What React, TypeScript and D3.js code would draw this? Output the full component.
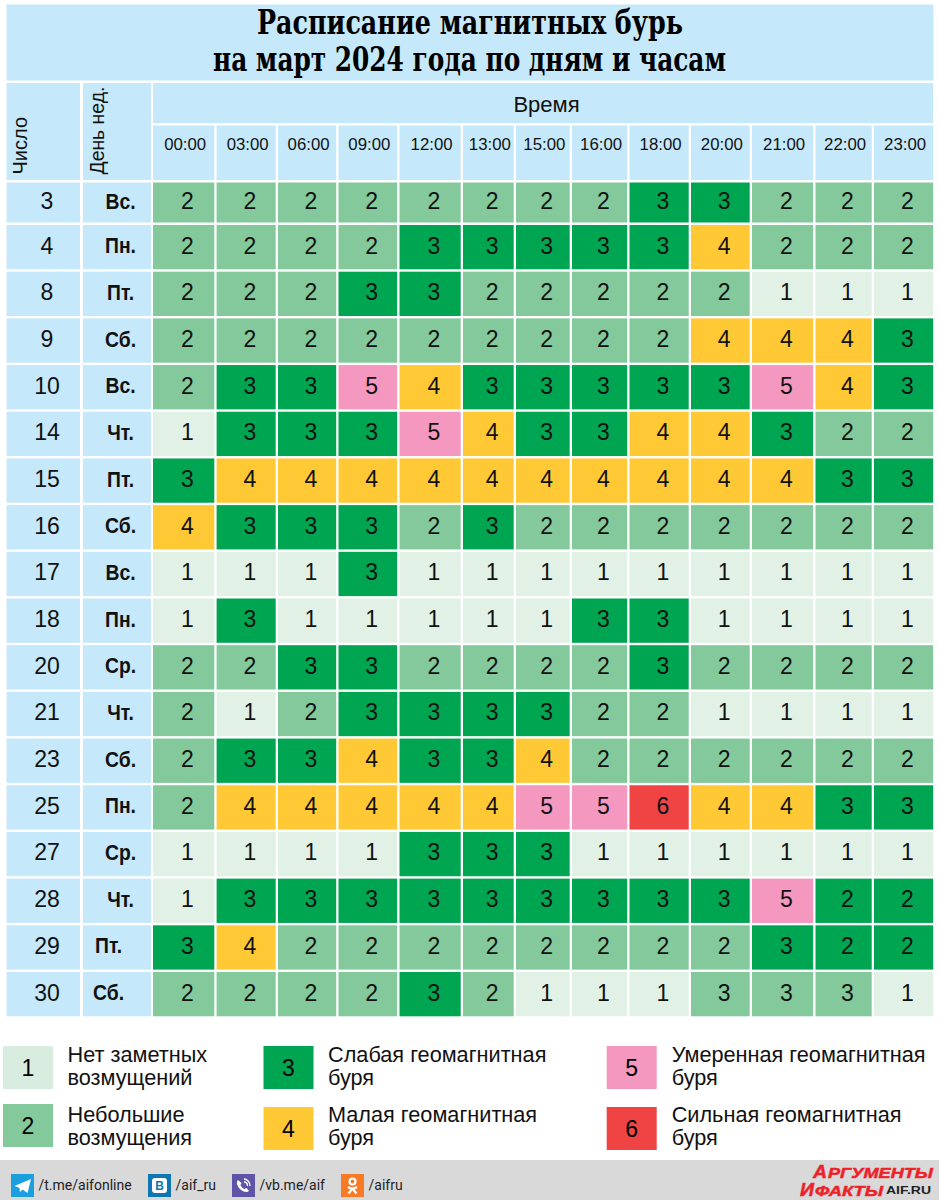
import React from "react";
import * as d3 from "d3";

const hours = ["00:00","03:00","06:00","09:00","12:00","13:00","15:00","16:00","18:00","20:00","21:00","22:00","23:00"];
const days = [3,4,8,9,10,14,15,16,17,18,20,21,23,25,27,28,29,30];
const weekdays = ["Вс.","Пн.","Пт.","Сб.","Вс.","Чт.","Пт.","Сб.","Вс.","Пн.","Ср.","Чт.","Сб.","Пн.","Ср.","Чт.","Пт.","Сб."];

// printed values, row by row
const values = [
  [2,2,2,2,2,2,2,2,3,3,2,2,2],
  [2,2,2,2,3,3,3,3,3,4,2,2,2],
  [2,2,2,3,3,2,2,2,2,2,1,1,1],
  [2,2,2,2,2,2,2,2,2,4,4,4,3],
  [2,3,3,5,4,3,3,3,3,3,5,4,3],
  [1,3,3,3,5,4,3,3,4,4,3,2,2],
  [3,4,4,4,4,4,4,4,4,4,4,3,3],
  [4,3,3,3,2,3,2,2,2,2,2,2,2],
  [1,1,1,3,1,1,1,1,1,1,1,1,1],
  [1,3,1,1,1,1,1,3,3,1,1,1,1],
  [2,2,3,3,2,2,2,2,3,2,2,2,2],
  [2,1,2,3,3,3,3,2,2,1,1,1,1],
  [2,3,3,4,3,3,4,2,2,2,2,2,2],
  [2,4,4,4,4,4,5,5,6,4,4,3,3],
  [1,1,1,1,3,3,3,1,1,1,1,1,1],
  [1,3,3,3,3,3,3,3,3,3,5,2,2],
  [3,4,2,2,2,2,2,2,2,2,3,2,2],
  [2,2,2,2,3,2,1,1,1,3,3,3,1],
];

// cells whose fill in the source differs from the printed value: [day, hour, shown level]
const fillOverrides: [number, string, number][] = [
  [28,"22:00",3],[28,"23:00",3],[29,"22:00",3],[29,"23:00",3],
  [30,"20:00",2],[30,"21:00",2],[30,"22:00",2],
];

const levels = [1,2,3,4,5,6];
const levelColors = ["#E2F1E6","#83C99B","#00A551","#FFC936","#F598C0","#F04444"];
const legendLines = [
  ["Нет заметных","возмущений"],
  ["Небольшие","возмущения"],
  ["Слабая геомагнитная","буря"],
  ["Малая геомагнитная","буря"],
  ["Умеренная геомагнитная","буря"],
  ["Сильная геомагнитная","буря"],
];
const socialLabels = ["/t.me/aifonline","/aif_ru","/vb.me/aif","/aifru"];
const socialColors = ["#1C9FDF","#0E76B0","#5E55A8","#F97A25"];

// layout
const columnStarts = [153,216.6,278,338.5,399.5,463,516,572,629.5,691,752,815.5,874,935.5];
const gap = 2.3;
const sky = "#C5E8FA";
const sans = "'Liberation Sans', Arial, sans-serif";

const x = d3.scaleLinear().domain(d3.range(columnStarts.length)).range(columnStarts);
const y = d3.scaleLinear().domain([1, days.length - 1]).range([225, 972]);
const rowTop = (i: number) => (i === 0 ? 182.5 : y(i));
const rowH = (i: number) => (i === 0 ? 40 : 44.3);
const color = d3.scaleOrdinal<number, string>().domain(levels).range(levelColors);

const legendX = d3.scaleOrdinal<number, number>().domain([0,1,2]).range([3,263.5,606.7]);
const legendY = (i: number) => {
  const col = Math.floor(i / 2), row = i % 2;
  if (row === 0) return 1046;
  return col === 0 ? 1104 : 1107;
};
const legendTextX = [67.5, 328, 671.7];
const socialIconX = [11, 148, 232, 341];

function fillLevel(r: number, c: number) {
  const o = fillOverrides.find(f => f[0] === days[r] && f[1] === hours[c]);
  return o ? o[2] : values[r][c];
}

function SocialGlyph({ i, x0 }: { i: number; x0: number }) {
  const t = `translate(${x0},1174)`;
  if (i === 0) return <path transform={t} d="M3.5 12 L20 5 L16.5 19 L11.5 15.5 L9 18 L8.5 14 Z" fill="#fff" />;
  if (i === 1) return <g transform={t}>
    <rect x={4} y={4} width={15} height={15} rx={3} fill="#fff" />
    <text x={11.5} y={16.3} textAnchor="middle" fontFamily={sans} fontWeight={700} fontSize={12} fill="#0E76B0">B</text>
  </g>;
  if (i === 2) return <g transform={t}>
    <path d="M6 6 C4 8 5 12 8 15 C11 18 15 19 17 17 L14.5 14 L12.5 15 C11 14.5 9 12.5 8.5 11 L9.5 9 Z" fill="#fff" />
    <path d="M12 5 C15 5 18 8 18 12 M12 8 C14 8 15.5 9.5 15.5 12" fill="none" stroke="#fff" strokeWidth={1.3} />
  </g>;
  return <g transform={t} fill="none" stroke="#fff" strokeWidth={2.2}>
    <circle cx={11.5} cy={7.5} r={3} />
    <path d="M7 13 Q11.5 16 16 13 M11.5 14.5 L7.5 19.5 M11.5 14.5 L15.5 19.5" />
  </g>;
}

export default function App() {
  return (
    <svg width={939} height={1200} viewBox="0 0 939 1200"
      style={{ position: "absolute", left: 0, top: 0, background: "#fff" }}>
      {/* title */}
      <rect x={6.5} y={4.5} width={927} height={76} fill={sky} />
      <g fontFamily="'DejaVu Serif', serif" fontWeight={700} fontSize={33} fill="#000" textAnchor="middle"
        style={{ fontStretch: "condensed" }}>
        <text x={470} y={34} textLength={426} lengthAdjust="spacingAndGlyphs">Расписание магнитных бурь</text>
        <text x={469.5} y={71} textLength={513} lengthAdjust="spacingAndGlyphs">на март 2024 года по дням и часам</text>
      </g>

      {/* headers */}
      <rect x={6.5} y={83} width={73.5} height={97} fill={sky} />
      <rect x={83} y={83} width={68} height={97} fill={sky} />
      <rect x={153} y={83} width={780.2} height={40} fill={sky} />
      <g fontFamily={sans} fill="#111">
        <text transform="translate(27,174.5) rotate(-90)" fontSize={20}>Число</text>
        <text transform="translate(104,174.5) rotate(-90)" fontSize={19.4}>День нед.</text>
        <text x={546.5} y={111.5} textAnchor="middle" fontSize={22}>Время</text>
      </g>
      {hours.map((h, c) => (
        <g key={h}>
          <rect x={x(c)} y={125.5} width={x(c + 1) - x(c) - gap} height={54.5} fill={sky} />
          <text x={(x(c) + x(c + 1) - gap) / 2 + 1.5} y={150} textAnchor="middle"
            fontFamily={sans} fontSize={16.8} fill="#111">{h}</text>
        </g>
      ))}

      {/* rows */}
      {days.map((d, r) => {
        const cy = rowTop(r) + rowH(r) / 2;
        return (
          <g key={d}>
            <rect x={6.5} y={rowTop(r)} width={73.5} height={rowH(r)} fill={sky} />
            <rect x={83} y={rowTop(r)} width={68} height={rowH(r)} fill={sky} />
            <text x={47} y={cy + 6.4} textAnchor="middle" fontFamily={sans} fontSize={23} fill="#111">{d}</text>
            <text transform={`translate(${r >= 16 ? 108.5 : 120.5},${cy + 6}) scale(0.86,1)`} textAnchor="middle" fontFamily={sans}
              fontWeight={700} fontSize={22.5} fill="#111">{weekdays[r]}</text>
            {hours.map((h, c) => (
              <g key={h}>
                <rect x={x(c)} y={rowTop(r)} width={x(c + 1) - x(c) - gap} height={rowH(r)} fill={color(fillLevel(r, c))} />
                <text x={(x(c) + x(c + 1) - gap) / 2 + 3.7} y={cy + 6.4} textAnchor="middle"
                  fontFamily={sans} fontSize={23} fill="#111">{values[r][c]}</text>
              </g>
            ))}
          </g>
        );
      })}

      {/* legend */}
      {levels.map((l, i) => {
        const col = Math.floor(i / 2);
        const top = legendY(i);
        const base = i % 2 === 0 ? 1062 : 1122;
        return (
          <g key={l}>
            <rect x={legendX(col)} y={top} width={50} height={43} fill={l === 1 ? "#D8EDE0" : color(l)} />
            <text x={legendX(col) + 25} y={top + 29.5} textAnchor="middle" fontFamily={sans} fontSize={23} fill="#000">{l}</text>
            {legendLines[i].map((t, k) => (
              <text key={k} x={legendTextX[col]} y={base + k * 23} fontFamily={sans} fontSize={21.7} fill="#111">{t}</text>
            ))}
          </g>
        );
      })}

      {/* footer */}
      <rect x={0} y={1160} width={939} height={40} fill="#D9D9D9" />
      {socialLabels.map((s, i) => (
        <g key={s}>
          <rect x={socialIconX[i]} y={1174} width={23} height={23} fill={socialColors[i]} />
          <SocialGlyph i={i} x0={socialIconX[i]} />
          <text x={socialIconX[i] + 27.5} y={1190} fontFamily="Roboto, sans-serif" fontSize={14} fill="#222">{s}</text>
        </g>
      ))}
      <g fontFamily={sans} fontWeight={900} fontStyle="italic" fill="#EE2129" stroke="#EE2129" strokeWidth={0.5}>
        <text x={813} y={1177.5} fontSize={19} textLength={14} lengthAdjust="spacingAndGlyphs">А</text>
        <text x={828} y={1177.5} fontSize={15.5} textLength={105} lengthAdjust="spacingAndGlyphs">РГУМЕНТЫ</text>
        <text x={800} y={1195.5} fontSize={19} textLength={14} lengthAdjust="spacingAndGlyphs">И</text>
        <text x={815} y={1195.5} fontSize={15} textLength={68} lengthAdjust="spacingAndGlyphs">ФАКТЫ</text>
      </g>
      <text x={886} y={1194} fontFamily={sans} fontWeight={700} fontSize={11.5} fill="#222" textLength={45} lengthAdjust="spacingAndGlyphs">AIF.RU</text>
    </svg>
  );
}
